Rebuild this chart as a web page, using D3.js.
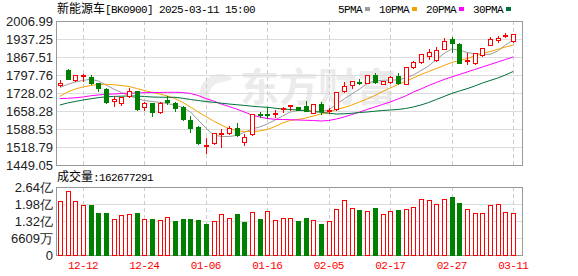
<!DOCTYPE html>
<html>
<head>
<meta charset="utf-8">
<script src="https://cdn.jsdelivr.net/npm/d3@7"></script>
<style>
body { margin: 0; background: #fff; }
svg { display: block; }
</style>
</head>
<body>
<svg id="chart" width="578" height="276"></svg>
<script>
var dates = ["12-09","12-10","12-11","12-12","12-13","12-16","12-17","12-18","12-19","12-20",
             "12-23","12-24","12-25","12-26","12-27","12-30","12-31","01-02","01-03","01-06",
             "01-07","01-08","01-09","01-10","01-13","01-14","01-15","01-16","01-17","01-20",
             "01-21","01-22","01-23","01-24","01-27","02-05","02-06","02-07","02-10","02-11",
             "02-12","02-13","02-14","02-17","02-18","02-19","02-20","02-21","02-24","02-25",
             "02-26","02-27","02-28","03-03","03-04","03-05","03-06","03-07","03-10","03-11"];

var opens  = [1760,1817,1778,1796,1791,1766,1743,1698,1688,1718,1734,1675,1690,1654,1699,1688,1673,1623,1597,1524,
              1533,1569,1572,1591,1540,1568,1647,1647,1646,1666,1678,1673,1678,1652,1684,1660,1666,1737,1759,1771,
              1766,1798,1764,1772,1794,1763,1828,1847,1872,1857,1900,1936,1916,1853,1843,1876,1915,1932,1949,1928];
var highs  = [1778,1821,1798,1801,1798,1768,1749,1715,1713,1747,1737,1694,1691,1693,1716,1694,1676,1639,1600,1554,
              1574,1587,1600,1611,1569,1647,1655,1675,1663,1675,1681,1674,1698,1685,1692,1671,1733,1772,1775,1781,
              1799,1804,1775,1795,1804,1828,1851,1879,1897,1908,1940,1944,1921,1883,1884,1904,1946,1950,1962,1957];
var lows   = [1755,1781,1774,1776,1763,1737,1690,1679,1683,1714,1662,1662,1640,1649,1684,1659,1623,1578,1530,1497,
              1531,1520,1569,1561,1527,1566,1636,1630,1634,1654,1662,1661,1659,1650,1645,1650,1663,1733,1746,1762,
              1765,1768,1761,1766,1763,1761,1824,1845,1861,1853,1897,1888,1843,1840,1841,1871,1913,1925,1944,1926];
var closes = [1768,1782,1798,1799,1766,1749,1694,1704,1712,1734,1666,1688,1653,1691,1695,1671,1626,1592,1533,1527,
              1572,1574,1591,1565,1556,1645,1644,1645,1652,1669,1680,1662,1660,1684,1658,1662,1731,1755,1774,1770,
              1798,1770,1773,1791,1766,1827,1848,1878,1885,1894,1929,1923,1846,1856,1882,1903,1938,1942,1952,1956];

var ma5  = [1749.3,1761.0,1770.6,1776.5,1781.1,1774.5,1759.0,1743.5,1730.0,1718.3,1706.7,1699.0,1695.1,1692.0,1687.3,
            1680.4,1671.8,1654.4,1623.4,1592.4,1565.3,1559.5,1559.5,1563.4,1575.0,1588.5,1596.3,1607.9,1623.4,1638.9,
            1654.4,1660.2,1660.2,1656.3,1656.3,1662.2,1685.4,1704.8,1724.1,1743.5,1764.8,1774.5,1777.2,1778.4,1778.4,
            1786.1,1797.8,1815.2,1832.6,1857.8,1881.0,1898.5,1894.6,1885.0,1881.0,1877.2,1878.0,1890.8,1914.0,1933.4];
var ma10 = [1714.5,1731.9,1743.5,1751.3,1757.1,1761.0,1761.7,1760.2,1757.1,1753.2,1745.4,1737.7,1730.7,1724.1,1716.4,
            1706.7,1691.2,1673.8,1654.4,1637.0,1619.5,1604.0,1590.5,1582.7,1578.8,1578.8,1580.8,1586.6,1598.2,1611.8,
            1621.5,1625.3,1631.2,1638.9,1646.7,1654.4,1664.1,1671.8,1681.5,1693.1,1704.8,1718.3,1733.8,1747.4,1761.0,
            1772.6,1786.1,1799.7,1811.3,1822.9,1834.6,1846.2,1853.9,1861.7,1871.4,1880.3,1888.8,1897.3,1906.3,1914.0];
var ma20 = [1706.7,1707.5,1709.4,1712.5,1717.2,1720.3,1723.0,1724.1,1726.1,1727.2,1728.4,1729.2,1730.0,1730.0,1730.7,
            1730.7,1730.0,1726.1,1718.3,1706.7,1697.0,1685.4,1675.7,1666.0,1654.4,1642.8,1635.0,1629.2,1626.1,1625.3,
            1624.6,1623.4,1622.2,1621.5,1619.5,1621.5,1627.3,1635.0,1644.7,1654.4,1664.1,1673.8,1683.5,1693.1,1704.8,
            1716.4,1731.9,1743.5,1757.1,1768.7,1780.3,1790.0,1799.7,1809.4,1819.1,1828.7,1838.4,1848.1,1857.8,1867.5];
var ma30 = [1681.5,1689.3,1695.1,1700.9,1705.5,1709.8,1713.3,1714.8,1715.6,1716.4,1716.4,1714.5,1712.5,1711.7,1711.4,
            1711.4,1707.5,1702.8,1699.0,1695.1,1692.0,1688.5,1685.4,1682.7,1680.0,1676.9,1674.5,1672.6,1669.1,1666.0,
            1664.1,1662.2,1660.2,1656.3,1653.2,1649.4,1646.7,1647.4,1649.4,1652.5,1654.4,1657.5,1660.2,1662.2,1664.1,
            1668.0,1673.8,1681.5,1691.2,1702.8,1714.5,1726.1,1735.8,1744.7,1755.1,1766.8,1776.5,1786.1,1797.8,1811.3];

// volume in millions of shares
var volumes = [209.9,248.8,209.9,194.4,194.4,164.5,164.5,140.0,155.5,159.4,164.5,140.0,141.3,136.1,147.7,
               132.2,141.3,141.3,137.4,121.8,132.2,158.1,145.1,159.4,129.6,165.8,140.0,171.1,136.1,143.8,
               142.7,132.2,145.1,134.9,120.5,130.9,177.6,212.5,181.5,174.9,169.8,182.7,158.1,169.8,174.9,
               177.6,185.3,216.4,212.5,197.0,216.4,225.5,200.9,177.6,162.1,164.5,193.2,199.4,165.8,162.677291];

var priceTicks = [1449.05,1518.79,1588.53,1658.28,1728.02,1797.76,1867.51,1937.25,2006.99];
var volTicks = [0, 66.09, 132.18, 198.27, 264.36];
var volTickLabels = ["0","6609万","1.32亿","1.98亿","2.64亿"];
var xLabels = ["12-12","12-24","01-06","01-16","02-05","02-17","02-27","03-11"];

var maNames = ["5PMA","10PMA","20PMA","30PMA"];
var maColors = ["#9c9c9c","#f4a300","#ff00ff","#00703a"];

var RED = "#ff0000", GREEN = "#008000";
var monoFont = "'Liberation Mono', monospace";
var sansFont = "'Liberation Sans', Arial, sans-serif";

var svg = d3.select("#chart");
// plot box (top is a reserved window name, so pTop)
var pLeft = 56, pRight = 522, pTop = 21, pBottom = 165, vTop = 187, vBottom = 255;

var x = d3.scaleBand().domain(dates).range([pLeft, 517]);
function cx(d) { return x(d) + x.bandwidth() / 2; }
function px(v) { return Math.round(v) + 0.5; }

var y = d3.scaleLinear().domain([priceTicks[0], priceTicks[priceTicks.length - 1]]).range([pBottom, pTop]);
var yv = d3.scaleLinear().domain([0, volTicks[volTicks.length - 1]]).range([vBottom, vTop]);

// watermark
svg.append("text")
    .attr("x", 240).attr("y", 101)
    .attr("font-family", "'Noto Sans CJK SC', sans-serif")
    .attr("font-size", 39).attr("font-weight", "bold")
    .attr("fill", "#ebebeb")
    .text("东方财富");
svg.append("path")
    .attr("d", "M232,78 C222,70 204,74 200,90 C198,100 206,106 214,104 C206,98 208,84 222,82 C228,81 231,80 232,78 Z")
    .attr("fill", "#ededed");

function styleAxis(g) {
    g.select(".domain").remove();
    g.selectAll(".tick line").attr("stroke", "#dcdcdc");
    g.selectAll(".tick text").attr("fill", "#222").attr("font-size", 13).attr("font-family", sansFont);
}

// price grid + labels
svg.append("g")
    .attr("transform", "translate(" + pLeft + ",0)")
    .call(d3.axisLeft(y).tickValues(priceTicks).tickSize(-(pRight - pLeft)).tickPadding(3)
          .tickFormat(d3.format(".2f")))
    .call(styleAxis);

// volume grid + labels
svg.append("g")
    .attr("transform", "translate(" + pLeft + ",0)")
    .call(d3.axisLeft(yv).tickValues(volTicks).tickSize(-(pRight - pLeft)).tickPadding(3)
          .tickFormat(function(d, i) { return volTickLabels[i]; }))
    .call(styleAxis);

// vertical dashed grid
[[pTop, pBottom], [vTop, vBottom]].forEach(function(r) {
    svg.append("g").selectAll("line")
        .data(xLabels)
        .join("line")
        .attr("x1", function(d) { return px(cx(d)); })
        .attr("x2", function(d) { return px(cx(d)); })
        .attr("y1", r[0]).attr("y2", r[1])
        .attr("stroke", "#cccccc")
        .attr("stroke-dasharray", "4,3");
});

// frames
svg.append("rect").attr("x", pLeft + 0.5).attr("y", pTop + 0.5)
    .attr("width", pRight - pLeft).attr("height", pBottom - pTop)
    .attr("fill", "none").attr("stroke", "#999");
svg.append("rect").attr("x", pLeft + 0.5).attr("y", vTop + 0.5)
    .attr("width", pRight - pLeft).attr("height", vBottom - vTop)
    .attr("fill", "none").attr("stroke", "#999");

// moving averages
var mas = [ma5, ma10, ma20, ma30];
var line = d3.line()
    .x(function(d, i) { return cx(dates[i]); })
    .y(function(d) { return y(d); });
mas.forEach(function(m, k) {
    svg.append("path")
        .datum(m)
        .attr("d", line)
        .attr("fill", "none")
        .attr("stroke", maColors[k])
        .attr("stroke-width", 1);
});

// candles
var candles = svg.append("g").selectAll("g")
    .data(dates)
    .join("g");

candles.append("line")
    .attr("x1", function(d) { return px(cx(d)); })
    .attr("x2", function(d) { return px(cx(d)); })
    .attr("y1", function(d, i) { return Math.round(y(highs[i])); })
    .attr("y2", function(d, i) { return Math.round(y(lows[i])) + 1; })
    .attr("stroke", function(d, i) { return closes[i] >= opens[i] ? RED : GREEN; });

candles.append("rect")
    .attr("x", function(d) { return Math.round(cx(d)) - 2 + 0.5; })
    .attr("width", 4)
    .attr("y", function(d, i) { return Math.round(y(Math.max(opens[i], closes[i]))) + 0.5; })
    .attr("height", function(d, i) {
        var h = Math.round(y(Math.min(opens[i], closes[i]))) - Math.round(y(Math.max(opens[i], closes[i])));
        return Math.max(h, 1);
    })
    .attr("fill", function(d, i) { return closes[i] >= opens[i] ? "#fff" : GREEN; })
    .attr("stroke", function(d, i) { return closes[i] >= opens[i] ? RED : GREEN; })
    .attr("shape-rendering", "crispEdges");

// volume bars, coloured by close against previous close
function volUp(i) { return i == 0 || closes[i] >= closes[i - 1]; }
svg.append("g").selectAll("rect")
    .data(volumes)
    .join("rect")
    .attr("x", function(d, i) { return Math.round(cx(dates[i])) - 2 + 0.5; })
    .attr("width", 4)
    .attr("y", function(d) { return Math.round(yv(d)) + 0.5; })
    .attr("height", function(d) { return vBottom - Math.round(yv(d)); })
    .attr("fill", function(d, i) { return volUp(i) ? "#fff" : GREEN; })
    .attr("stroke", function(d, i) { return volUp(i) ? RED : GREEN; })
    .attr("shape-rendering", "crispEdges");

// x labels
svg.append("g")
    .attr("transform", "translate(0," + vBottom + ")")
    .call(d3.axisBottom(x).tickValues(xLabels).tickSize(0).tickPadding(6))
    .call(function(g) {
        g.select(".domain").remove();
        g.selectAll(".tick text").attr("fill", RED).attr("font-size", 11)
            .attr("font-family", monoFont).attr("letter-spacing", "-0.6px");
    });

// title
var title = svg.append("text").attr("x", 57).attr("y", 13).attr("fill", "#000");
title.append("tspan").attr("font-family", "'Noto Sans CJK SC', sans-serif").attr("font-size", 12).text("新能源车");
title.append("tspan").attr("font-family", monoFont).attr("font-size", 11)
    .attr("letter-spacing", "-0.6px").text("[BK0900] 2025-03-11 15:00");

// legend
var lx = 338;
maNames.forEach(function(name, k) {
    svg.append("text").attr("x", lx).attr("y", 12.5)
        .attr("font-family", monoFont).attr("font-size", 11)
        .attr("letter-spacing", "-0.6px").attr("fill", "#000")
        .text(name);
    lx += name.length * 6 + 3;
    svg.append("rect").attr("x", lx).attr("y", 7).attr("width", 5).attr("height", 4)
        .attr("fill", maColors[k]);
    lx += 5 + 9;
});

// volume caption
var vcap = svg.append("text").attr("x", 57).attr("y", 181).attr("fill", "#000");
vcap.append("tspan").attr("font-family", "'Noto Sans CJK SC', sans-serif").attr("font-size", 12).text("成交量");
vcap.append("tspan").attr("font-family", monoFont).attr("font-size", 11)
    .attr("letter-spacing", "-0.6px").text(":" + Math.round(volumes[volumes.length - 1] * 1e6));
</script>
</body>
</html>
